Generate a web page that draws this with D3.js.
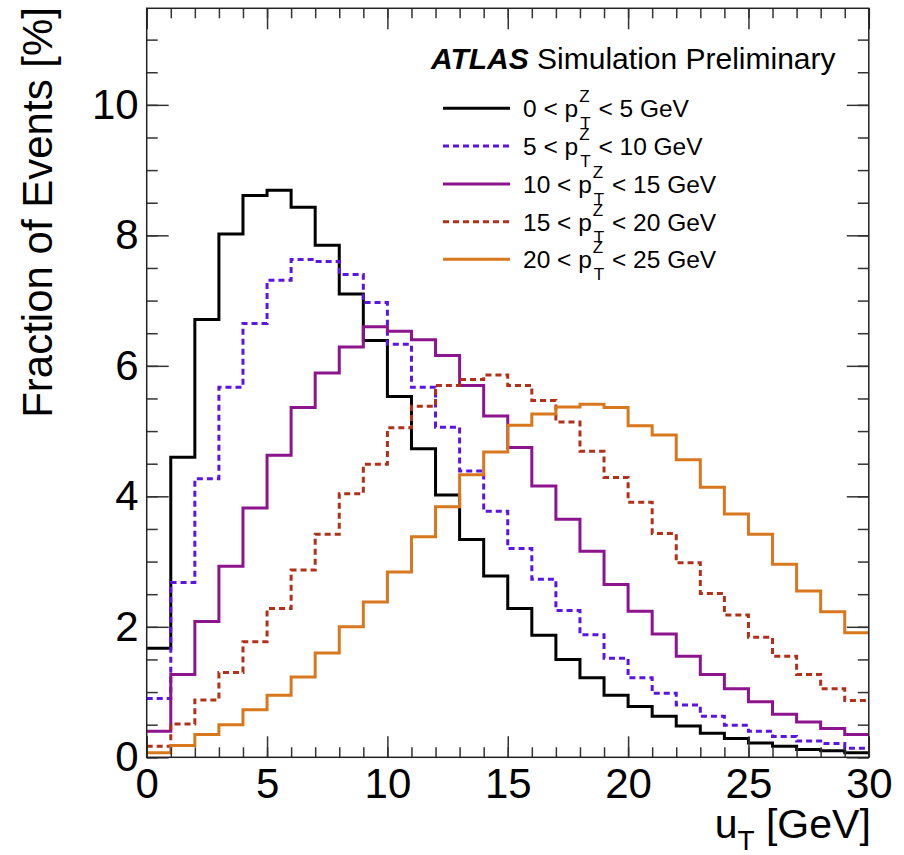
<!DOCTYPE html>
<html>
<head>
<meta charset="utf-8">
<script src="https://cdn.jsdelivr.net/npm/d3@7"></script>
<style>
  body { margin: 0; background: #fff; }
  svg { display: block; font-family: "Liberation Sans", Arial, Helvetica, sans-serif; }
  text { white-space: pre; }
</style>
</head>
<body>
<svg id="chart" width="904" height="855"></svg>
<script>
// --- data (fraction of events in %, one value per 1 GeV bin of u_T) ---
const binLow = d3.range(0, 30); // lower edges of the 30 bins, 0..29 GeV

const frac0to5 = [1.67, 4.60, 6.71, 8.02, 8.61, 8.69, 8.43, 7.85, 7.10, 6.39,
                  5.53, 4.73, 4.02, 3.34, 2.78, 2.28, 1.87, 1.50, 1.22, 0.95,
                  0.78, 0.63, 0.48, 0.37, 0.29, 0.22, 0.17, 0.12, 0.10, 0.07];
const frac5to10 = [0.90, 2.68, 4.27, 5.67, 6.65, 7.31, 7.63, 7.60, 7.40, 6.97,
                   6.33, 5.67, 5.06, 4.39, 3.77, 3.20, 2.73, 2.25, 1.88, 1.52,
                   1.22, 0.98, 0.80, 0.63, 0.49, 0.40, 0.32, 0.25, 0.21, 0.14];
const frac10to15 = [0.40, 1.27, 2.08, 2.93, 3.82, 4.63, 5.36, 5.89, 6.29, 6.60,
                    6.53, 6.40, 6.16, 5.70, 5.23, 4.75, 4.16, 3.65, 3.16, 2.65,
                    2.24, 1.89, 1.55, 1.27, 1.05, 0.85, 0.66, 0.54, 0.44, 0.35];
const frac15to20 = [0.17, 0.51, 0.88, 1.30, 1.77, 2.28, 2.87, 3.42, 4.04, 4.49,
                    5.05, 5.38, 5.70, 5.79, 5.86, 5.70, 5.47, 5.14, 4.69, 4.29,
                    3.91, 3.43, 2.98, 2.51, 2.18, 1.84, 1.55, 1.27, 1.05, 0.87];
const frac20to25 = [0.07, 0.18, 0.35, 0.50, 0.73, 0.95, 1.23, 1.60, 2.00, 2.38,
                    2.84, 3.38, 3.84, 4.33, 4.68, 5.09, 5.26, 5.37, 5.41, 5.36,
                    5.08, 4.94, 4.56, 4.14, 3.73, 3.42, 2.96, 2.55, 2.23, 1.91];

const ptLow = [0, 5, 10, 15, 20];
const ptHigh = [5, 10, 15, 20, 25];

const xMajorTicks = [0, 5, 10, 15, 20, 25, 30];
const yMajorTicks = [0, 2, 4, 6, 8, 10];

// --- layout / style ---
const W = 904, H = 855;
const margin = {left: 146.7, right: 35.2, top: 8.3, bottom: 97.7};
const iw = W - margin.left - margin.right;
const ih = H - margin.top - margin.bottom;

const seriesStyle = [
    {data: frac0to5,   color: "#000000", dash: null},
    {data: frac5to10,  color: "#5a14e6", dash: "6,4"},
    {data: frac10to15, color: "#8c148c", dash: null},
    {data: frac15to20, color: "#b0301a", dash: "6,4"},
    {data: frac20to25, color: "#d8771e", dash: null}
];

const svg = d3.select("#chart");
const g = svg.append("g").attr("transform", `translate(${margin.left},${margin.top})`);

const x = d3.scaleLinear().domain([0, 30]).range([0, iw]);
const y = d3.scaleLinear().domain([0, 11.48]).range([ih, 0]);

// --- histograms (step lines) ---
const line = d3.line()
    .x(d => x(d[0]))
    .y(d => y(d[1]))
    .curve(d3.curveStepAfter);

seriesStyle.forEach(s => {
    const pts = binLow.map((b, i) => [b, s.data[i]]);
    pts.push([30, s.data[s.data.length - 1]]); // close last bin at the right edge
    g.append("path")
        .datum(pts)
        .attr("fill", "none")
        .attr("stroke", s.color)
        .attr("stroke-width", 3)
        .attr("stroke-dasharray", s.dash)
        .attr("d", line);
});

// --- axes, ROOT style: ticks pointing inward on all four sides ---
const tickColor = "#333";

function styleAxis(sel) {
    sel.select(".domain").remove();
    sel.selectAll(".tick line").attr("stroke", tickColor).attr("stroke-width", 1.5);
}

// minor ticks
g.append("g").attr("transform", `translate(0,${ih})`)
    .call(d3.axisBottom(x).tickValues(d3.range(0, 31)).tickSize(-10).tickFormat(""))
    .call(styleAxis);
g.append("g")
    .call(d3.axisTop(x).tickValues(d3.range(0, 31)).tickSize(-10).tickFormat(""))
    .call(styleAxis);
g.append("g")
    .call(d3.axisLeft(y).tickValues(d3.range(0, 11.5, 0.5)).tickSize(-11).tickFormat(""))
    .call(styleAxis);
g.append("g").attr("transform", `translate(${iw},0)`)
    .call(d3.axisRight(y).tickValues(d3.range(0, 11.5, 0.5)).tickSize(-11).tickFormat(""))
    .call(styleAxis);

// major ticks + labels
const xAxis = g.append("g").attr("transform", `translate(0,${ih})`)
    .call(d3.axisBottom(x).tickValues(xMajorTicks).tickSize(-21).tickPadding(11).tickFormat(d3.format("d")))
    .call(styleAxis);
g.append("g")
    .call(d3.axisTop(x).tickValues(xMajorTicks).tickSize(-21).tickFormat(""))
    .call(styleAxis);
const yAxis = g.append("g")
    .call(d3.axisLeft(y).tickValues(yMajorTicks).tickSize(-22).tickPadding(8).tickFormat(d3.format("d")))
    .call(styleAxis);
g.append("g").attr("transform", `translate(${iw},0)`)
    .call(d3.axisRight(y).tickValues(yMajorTicks).tickSize(-22).tickFormat(""))
    .call(styleAxis);

[xAxis, yAxis].forEach(a => a.selectAll("text")
    .attr("fill", "#000")
    .style("font-size", "42px")
    .style("font-family", "'Liberation Sans', Arial, Helvetica, sans-serif"));

// frame
g.append("rect")
    .attr("width", iw).attr("height", ih)
    .attr("fill", "none")
    .attr("stroke", "#222")
    .attr("stroke-width", 1.5);

// --- axis titles ---
const xt = svg.append("text")
    .attr("x", margin.left + iw + 2)
    .attr("y", 838)
    .attr("text-anchor", "end")
    .style("font-size", "41px");
xt.append("tspan").text("u");
xt.append("tspan").attr("dy", 12).style("font-size", "28px").text("T");
xt.append("tspan").attr("dy", -12).text(" [GeV]");

svg.append("text")
    .attr("transform", "translate(52,7) rotate(-90)")
    .attr("text-anchor", "end")
    .style("font-size", "42px")
    .text("Fraction of Events [%]");

// --- ATLAS label ---
const atl = svg.append("text")
    .attr("x", 431)
    .attr("y", 69)
    .style("font-size", "30px");
atl.append("tspan").style("font-weight", "bold").style("font-style", "italic").text("ATLAS");
atl.append("tspan").text(" Simulation Preliminary");

// --- legend ---
const legY = [108.3, 146, 184, 221.7, 259.3];
const leg = svg.append("g");

seriesStyle.forEach((s, i) => {
    const ly = legY[i];
    leg.append("line")
        .attr("x1", 443).attr("x2", 510)
        .attr("y1", ly).attr("y2", ly)
        .attr("stroke", s.color)
        .attr("stroke-width", 3)
        .attr("stroke-dasharray", s.dash);

    const tx = 523, base = ly + 9;
    const head = leg.append("text")
        .attr("x", tx).attr("y", base)
        .style("font-size", "24.5px")
        .text(`${ptLow[i]} < p`);
    const hw = head.node().getComputedTextLength();
    const sx = tx + hw + 1;

    const sup = leg.append("text")
        .attr("x", sx).attr("y", base - 15)
        .style("font-size", "17px")
        .text("Z");
    const sub = leg.append("text")
        .attr("x", sx + 1).attr("y", base + 12)
        .style("font-size", "17px")
        .text("T");
    const sw = Math.max(sup.node().getComputedTextLength(), sub.node().getComputedTextLength() + 1);

    leg.append("text")
        .attr("x", sx + sw + 1).attr("y", base)
        .style("font-size", "24.5px")
        .text(` < ${ptHigh[i]} GeV`);
});
</script>
</body>
</html>
